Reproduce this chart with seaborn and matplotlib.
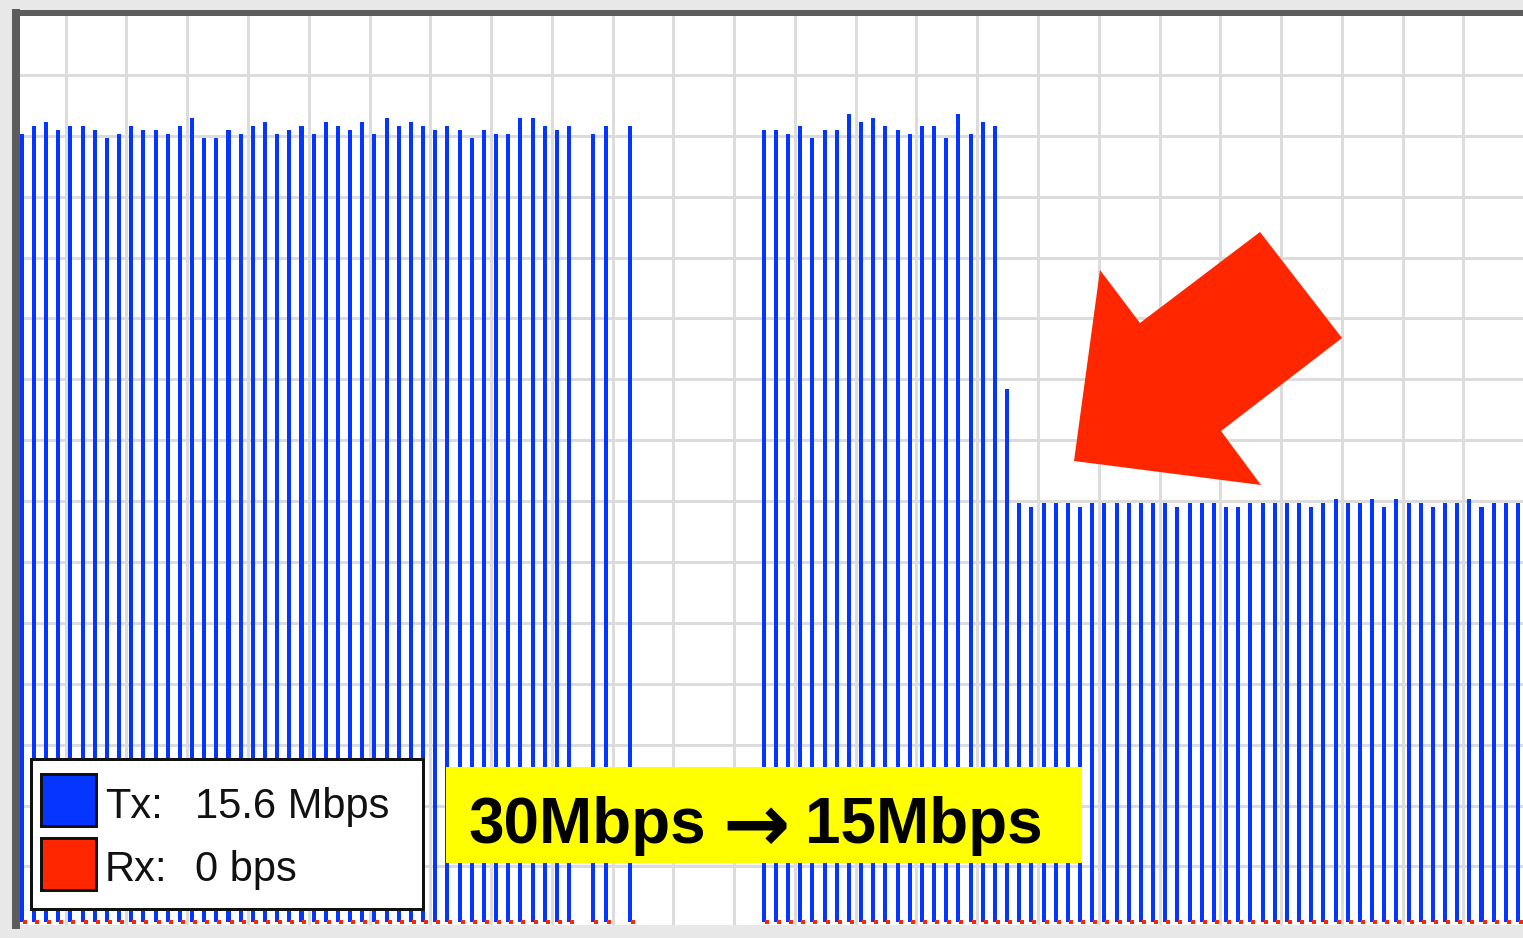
#!/usr/bin/env python3
"""Gráfica de tráfico Tx/Rx: caída de 30 Mbps a 15 Mbps."""

import matplotlib

matplotlib.use("Agg")
import matplotlib.pyplot as plt
import numpy as np
import pandas as pd
import seaborn as sns
from matplotlib.patches import Polygon, Rectangle

ANCHO, ALTO = 1523, 938

# Tx por muestra (Mbps); None = muestra sin dato
TX_MBPS = [
    29.35, 29.65, 29.8, 29.5, 29.65, 29.65, 29.5, 29.2, 29.35, 29.65,   # 0-9
    29.5, 29.5, 29.35, 29.65, 29.95, 29.2, 29.2, 29.5, 29.35, 29.65,    # 10-19
    29.8, 29.35, 29.5, 29.65, 29.35, 29.8, 29.65, 29.5, 29.8, 29.35,    # 20-29
    29.95, 29.65, 29.8, 29.65, 29.5, 29.65, 29.5, 29.2, 29.5, 29.35,    # 30-39
    29.35, 29.95, 29.95, 29.65, 29.5, 29.65, None, 29.35, 29.65, None,  # 40-49
    29.65, None, None, None, None, None, None, None, None, None,        # 50-59
    None, 29.5, 29.5, 29.35, 29.65, 29.2, 29.5, 29.5, 30.1, 29.8,       # 60-69
    29.95, 29.65, 29.5, 29.35, 29.65, 29.65, 29.2, 30.1, 29.35, 29.8,   # 70-79
    29.65, 19.85, 15.6, 15.45, 15.6, 15.6, 15.6, 15.45, 15.6, 15.6,     # 80-89
    15.6, 15.6, 15.6, 15.6, 15.6, 15.45, 15.6, 15.6, 15.6, 15.45,       # 90-99
    15.45, 15.6, 15.6, 15.6, 15.6, 15.6, 15.45, 15.6, 15.75, 15.6,      # 100-109
    15.6, 15.75, 15.45, 15.75, 15.6, 15.6, 15.45, 15.6, 15.6, 15.75,    # 110-119
    15.45, 15.6, 15.6, 15.6,                                             # 120-123
]
RX_MBPS = 0.0

LEYENDA_NOMBRES = ["Tx:", "Rx:"]
LEYENDA_VALORES = ["15.6 Mbps", "0 bps"]
ANOTACION = ["30Mbps", "\u2192", "15Mbps"]

AZUL = "#0536ff"
ROJO = "#ff2600"
AMARILLO = "#ffff00"
GRIS_FONDO = "#e8e8e8"
GRIS_BORDE = "#5c5c5c"
GRIS_REJILLA = "#dcdcdc"

# geometría en píxeles (muestra 0 en x=21.7, 0 Mbps en y=922)
X0_PX = 21.7
PX_MUESTRA = 12.165
Y0_PX = 922.0
PX_MBPS = 26.86
EJE_IZQ, EJE_DER, EJE_SUP, EJE_INF = 16.0, 1523.0, 13.5, 925.0


def px(v):
    return v * 72 / 100


def main() -> None:
    df = pd.DataFrame({"muestra": range(len(TX_MBPS)), "tx": TX_MBPS}).dropna()

    fig = plt.figure(figsize=(ANCHO / 100, ALTO / 100), dpi=100)
    fig.patch.set_facecolor(GRIS_FONDO)
    ax = fig.add_axes([
        EJE_IZQ / ANCHO,
        1 - EJE_INF / ALTO,
        (EJE_DER - EJE_IZQ) / ANCHO,
        (EJE_INF - EJE_SUP) / ALTO,
    ])
    ax.set_facecolor("white")

    sns.barplot(data=df, x="muestra", y="tx", native_scale=True, width=0.33,
                color=AZUL, saturation=1, errorbar=None, linewidth=0, ax=ax)
    sns.scatterplot(x=df["muestra"] + 3 / PX_MUESTRA,
                    y=np.full(len(df), RX_MBPS), marker="s", s=10,
                    color=ROJO, linewidth=0, legend=False, ax=ax, zorder=3)

    # rejilla (antes de fijar límites: set_ticks amplía la vista)
    xs = [(65.7 - X0_PX + k * 60.77) / PX_MUESTRA for k in range(-1, 25)]
    ys = [(Y0_PX - (74.8 + k * 60.9)) / PX_MBPS for k in range(-1, 15)]
    ax.set_xticks(xs)
    ax.set_yticks(ys)
    ax.set_xlim((EJE_IZQ - X0_PX) / PX_MUESTRA, (EJE_DER - X0_PX) / PX_MUESTRA)
    ax.set_ylim((Y0_PX - EJE_INF) / PX_MBPS, (Y0_PX - EJE_SUP) / PX_MBPS)
    ax.grid(True, color=GRIS_REJILLA, linewidth=px(3))
    ax.set_axisbelow(True)
    ax.tick_params(length=0, labelbottom=False, labelleft=False)
    ax.set_xlabel("")
    ax.set_ylabel("")

    for lado in ("right", "bottom"):
        ax.spines[lado].set_visible(False)
    ax.spines["left"].set_color(GRIS_BORDE)
    ax.spines["left"].set_linewidth(px(8))
    ax.spines["top"].set_color(GRIS_BORDE)
    ax.spines["top"].set_linewidth(px(6))

    # capa de anotaciones en píxeles
    capa = fig.add_axes([0, 0, 1, 1], zorder=5)
    capa.set_xlim(0, ANCHO)
    capa.set_ylim(ALTO, 0)
    capa.axis("off")
    capa.patch.set_alpha(0)

    fuente = ["Liberation Sans", "DejaVu Sans"]
    capa.add_patch(Rectangle((31, 759), 392, 150, facecolor="white",
                             edgecolor="#111111", linewidth=px(3)))
    for fila, color in enumerate([AZUL, ROJO]):
        y = 774 + fila * 64
        capa.add_patch(Rectangle((41, y), 55, 52, facecolor=color,
                                 edgecolor="#111111", linewidth=px(3)))
        base = 818 + fila * 63
        capa.text(105, base, LEYENDA_NOMBRES[fila], fontsize=30, family=fuente,
                  va="baseline", color="#111111")
        capa.text(195, base, LEYENDA_VALORES[fila], fontsize=30, family=fuente,
                  va="baseline", color="#111111")

    capa.add_patch(Rectangle((446, 767), 636, 96, facecolor=AMARILLO,
                             edgecolor="none"))
    capa.text(468, 843, ANOTACION[0], fontsize=46, fontweight="bold",
              family=fuente, va="baseline", color="black")
    capa.text(756, 820, ANOTACION[1], fontsize=58, fontweight="bold",
              family=["DejaVu Sans"], ha="center", va="center_baseline",
              color="black")
    capa.text(805, 843, ANOTACION[2], fontsize=46, fontweight="bold",
              family=fuente, va="baseline", color="black")

    flecha = [(1074, 461), (1100, 270), (1140, 323), (1260, 232),
              (1342, 338), (1221, 431), (1261, 485)]
    capa.add_patch(Polygon(flecha, closed=True, facecolor=ROJO,
                           edgecolor="none"))

    fig.savefig("out.png", dpi=100, facecolor=fig.get_facecolor())
    plt.close(fig)


if __name__ == "__main__":
    main()
